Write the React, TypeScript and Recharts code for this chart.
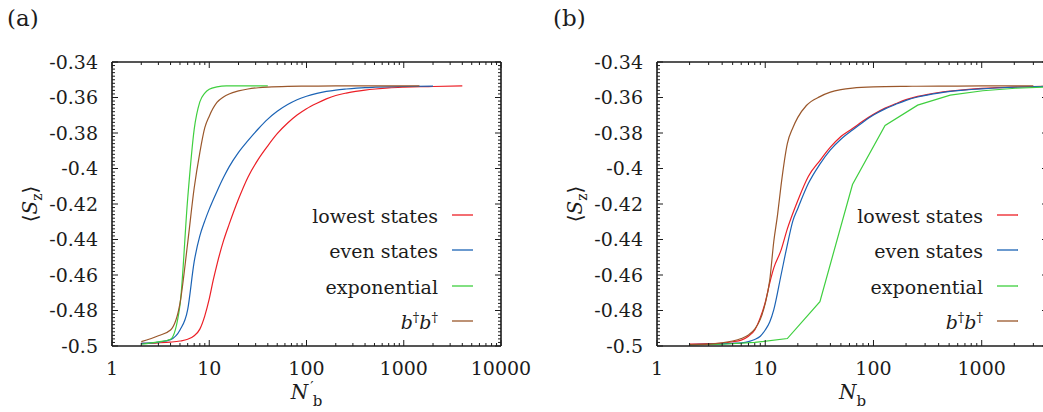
import React from "react"
import { LineChart, Line, XAxis, YAxis, Legend } from "recharts"

const SERIF = "'DejaVu Serif', 'Liberation Serif', serif"
const INK = "#1c1c1c"

const RED = "#ec1f26"
const BLUE = "#1b63b5"
const GREEN = "#3fcf3f"
const BROWN = "#9a572b"

// panel (a): <S_z> against N'_b
const aLowestN = [2, 3, 4, 5, 6, 7, 8, 9, 10, 11, 12, 14, 16, 20, 25, 32, 40, 50, 64, 80, 100, 128, 160, 200, 256, 320, 400, 512, 700, 1000, 1500, 2000, 4000]
const aLowestS = [-0.4985, -0.4982, -0.4978, -0.4972, -0.4962, -0.4942, -0.4905, -0.483, -0.4735, -0.4628, -0.4541, -0.4408, -0.4315, -0.4172, -0.4049, -0.3947, -0.3872, -0.3804, -0.3744, -0.3699, -0.3663, -0.3632, -0.3608, -0.3589, -0.3575, -0.3565, -0.3558, -0.3552, -0.3546, -0.3542, -0.3539, -0.3538, -0.3535]

const aEvenN = [2, 3, 4, 5, 6, 7, 8, 9, 10, 12, 14, 16, 20, 25, 32, 40, 50, 64, 80, 100, 128, 160, 200, 256, 400, 512, 1000, 2000]
const aEvenS = [-0.4985, -0.4978, -0.4964, -0.491, -0.4795, -0.4525, -0.438, -0.4295, -0.4229, -0.4129, -0.4051, -0.3991, -0.3909, -0.3843, -0.3776, -0.3722, -0.3678, -0.364, -0.3613, -0.3593, -0.3577, -0.3566, -0.3558, -0.3552, -0.3544, -0.3542, -0.3538, -0.3536]

const aExpN = [2, 3, 4, 5, 6, 7, 8, 9, 10, 12, 15, 20, 40]
const aExpS = [-0.499, -0.4977, -0.4962, -0.477, -0.417, -0.378, -0.3625, -0.3575, -0.3553, -0.354, -0.3535, -0.3535, -0.3535]

const aPairN = [2, 3, 4, 5, 6, 7, 8, 9, 10, 12, 14, 16, 20, 25, 32, 40, 64, 100, 200, 1450]
const aPairS = [-0.4975, -0.4942, -0.491, -0.476, -0.442, -0.411, -0.391, -0.377, -0.3705, -0.3628, -0.3597, -0.358, -0.3563, -0.3552, -0.3545, -0.3541, -0.3537, -0.3536, -0.3535, -0.3535]

// panel (b): <S_z> against N_b
const bLowestN = [2, 3, 4, 5, 6, 7, 8, 9, 10, 11, 12, 14, 16, 20, 25, 32, 40, 50, 64, 80, 100, 128, 160, 200, 256, 320, 400, 512, 640, 800, 1000, 1500, 2000, 3000, 4000]
const bLowestS = [-0.4989, -0.4987, -0.4983, -0.4976, -0.4967, -0.4945, -0.491, -0.484, -0.4755, -0.4645, -0.456, -0.446, -0.434, -0.418, -0.4045, -0.3955, -0.388, -0.382, -0.3775, -0.3733, -0.3695, -0.366, -0.3635, -0.3612, -0.3594, -0.3582, -0.3572, -0.3564, -0.3558, -0.3553, -0.3549, -0.3544, -0.3541, -0.3538, -0.3537]

const bEvenN = [2, 3, 4, 5, 6, 7, 8, 9, 10, 11, 12, 14, 16, 18, 20, 25, 32, 40, 50, 64, 80, 100, 128, 160, 200, 256, 320, 400, 512, 640, 800, 1000, 1500, 2000, 3000, 4000]
const bEvenS = [-0.4992, -0.499, -0.4988, -0.4985, -0.4982, -0.4975, -0.4963, -0.4945, -0.491, -0.4865, -0.4795, -0.46, -0.443, -0.4295, -0.4225, -0.4085, -0.3975, -0.3895, -0.3835, -0.3783, -0.3739, -0.3699, -0.3664, -0.3639, -0.3616, -0.3597, -0.3585, -0.3575, -0.3566, -0.356, -0.3555, -0.3551, -0.3545, -0.3542, -0.3539, -0.3537]

const bExpN = [2, 4, 8, 16, 32, 64, 128, 256, 512, 1024, 2048, 4096]
const bExpS = [-0.4993, -0.499, -0.498, -0.4958, -0.475, -0.409, -0.3758, -0.3643, -0.3587, -0.3562, -0.3548, -0.354]

const bPairN = [2, 3, 4, 5, 6, 7, 8, 9, 10, 11, 12, 13, 14, 16, 18, 20, 24, 32, 40, 50, 64, 100, 200, 400, 1000, 3000]
const bPairS = [-0.4992, -0.4989, -0.4982, -0.4972, -0.4958, -0.4938, -0.4905, -0.485, -0.476, -0.463, -0.441, -0.426, -0.4095, -0.386, -0.377, -0.3712, -0.3645, -0.3595, -0.357, -0.3556, -0.3547, -0.354, -0.3537, -0.3536, -0.3535, -0.3535]

// axes
const yLabels = [-0.5, -0.48, -0.46, -0.44, -0.42, -0.4, -0.38, -0.36, -0.34]
const xLabelsA = [1, 10, 100, 1000, 10000]
const xLabelsB = [1, 10, 100, 1000]
const seriesNames = ["lowest states", "even states", "exponential", "b†b†"]

const rows = (n: number[], s: number[]) => n.map((x, i) => ({ x, y: s[i] }))

// minor ticks: 2..9 per decade, and 10 steps between y labels
const logTicks = (max: number) => {
  const out: number[] = []
  for (let d = 1; d <= max; d *= 10) {
    for (let k = 1; k <= 9; k++) if (k * d <= max) out.push(k * d)
  }
  return out
}
const yTicks: number[] = []
for (let i = 0; i < yLabels.length - 1; i++) {
  for (let k = 0; k < 10; k++) yTicks.push(Number((yLabels[i] + (k * 0.02) / 10).toFixed(4)))
}
yTicks.push(yLabels[yLabels.length - 1])

const isMajorY = (v: number) => yLabels.some((m) => Math.abs(m - v) < 1e-6)

const PLOT_TOP = 62
const PLOT_BOTTOM = 346
const HEIGHT = 412

type Series = { name: string; color: string; data: { x: number; y: number }[]; curve: "monotone" | "linear" }

function LegendBox({ series, textRight }: { series: Series[]; textRight: number }) {
  return (
    <div style={{ position: "relative", width: 0, height: 0 }}>
      {series.map((s, i) => {
        const y = Math.round(215 + i * 35.3)
        return (
          <React.Fragment key={s.name}>
            <div
              style={{
                position: "absolute",
                left: 0,
                width: textRight,
                top: y - 12,
                height: 26,
                lineHeight: "26px",
                textAlign: "right",
                fontSize: 19,
                fontFamily: SERIF,
                color: INK,
                whiteSpace: "nowrap",
              }}
            >
              {s.name === "b†b†" ? (
                <span>
                  <i>b</i>
                  <sup style={{ fontSize: 13, lineHeight: 0 }}>†</sup>
                  <i>b</i>
                  <sup style={{ fontSize: 13, lineHeight: 0 }}>†</sup>
                </span>
              ) : (
                s.name
              )}
            </div>
            <svg style={{ position: "absolute", left: textRight + 14, top: y - 2 }} width={21} height={4}>
              <line x1={0} x2={21} y1={2} y2={2} stroke={s.color} strokeWidth={1.3} />
            </svg>
          </React.Fragment>
        )
      })}
    </div>
  )
}

function Panel({
  series,
  xMax,
  xLabels,
  width,
  plotLeft,
  plotRight,
  primed,
  legendRight,
}: {
  series: Series[]
  xMax: number
  xLabels: number[]
  width: number
  plotLeft: number
  plotRight: number
  primed: boolean
  legendRight: number
}) {
  const xTicks = logTicks(xMax)
  const margin = { top: PLOT_TOP - 1, right: width - plotRight - 1, bottom: HEIGHT - PLOT_BOTTOM - 30, left: plotLeft - 60 }
  const axisLine = { stroke: INK, strokeWidth: 1.6 }
  const cx = (plotLeft + plotRight) / 2
  const labelX = plotLeft - 75
  const labelY = (PLOT_TOP + PLOT_BOTTOM) / 2

  const bottomTick = ({ x, y, payload }: any) => {
    const major = xLabels.includes(payload.value)
    return (
      <g>
        <line x1={x} x2={x} y1={y} y2={y - (major ? 6 : 3)} stroke={INK} />
        {major && (
          <text x={x} y={y + 29} textAnchor="middle" fontSize={19} fontFamily={SERIF} fill={INK}>
            {payload.value}
          </text>
        )}
      </g>
    )
  }
  const topTick = ({ x, y, payload }: any) => {
    const major = xLabels.includes(payload.value)
    return <line x1={x} x2={x} y1={y} y2={y + (major ? 6 : 3)} stroke={INK} />
  }
  const leftTick = ({ x, y, payload }: any) => {
    const major = isMajorY(payload.value)
    return (
      <g>
        <line x1={x} x2={x + (major ? 6 : 3)} y1={y} y2={y} stroke={INK} />
        {major && (
          <text x={x - 14} y={y} dy="0.36em" textAnchor="end" fontSize={19} fontFamily={SERIF} fill={INK}>
            {String(payload.value)}
          </text>
        )}
      </g>
    )
  }
  const rightTick = ({ x, y, payload }: any) => {
    const major = isMajorY(payload.value)
    return <line x1={x} x2={x - (major ? 6 : 3)} y1={y} y2={y} stroke={INK} />
  }

  const xTitle = () => (
    <text x={cx} y={399} textAnchor="middle" fontFamily={SERIF} fill={INK} fontSize={20}>
      <tspan fontStyle="italic">N</tspan>
      {primed ? (
        <>
          <tspan fontSize={15} dx={2} dy={-7}>′</tspan>
          <tspan fontSize={15} dx={-1} dy={14}>b</tspan>
        </>
      ) : (
        <tspan fontSize={15} dy={7}>b</tspan>
      )}
    </text>
  )
  const yTitle = () => (
    <text
      transform={`rotate(-90 ${labelX} ${labelY})`}
      x={labelX}
      y={labelY}
      textAnchor="middle"
      fontFamily={SERIF}
      fill={INK}
      fontSize={20}
    >
      ⟨<tspan fontStyle="italic">S</tspan>
      <tspan fontSize={14} dy={5}>z</tspan>
      <tspan dy={-5}>⟩</tspan>
    </text>
  )

  return (
    <LineChart width={width} height={HEIGHT} margin={margin}>
      <XAxis
        xAxisId="bottom"
        dataKey="x"
        type="number"
        scale="log"
        domain={[1, xMax]}
        allowDataOverflow
        ticks={xTicks}
        interval={0}
        tickSize={0}
        tickMargin={0}
        tickLine={false}
        tick={bottomTick}
        axisLine={axisLine}
        height={30}
        label={xTitle}
      />
      <XAxis
        xAxisId="top"
        orientation="top"
        dataKey="x"
        type="number"
        scale="log"
        domain={[1, xMax]}
        allowDataOverflow
        ticks={xTicks}
        interval={0}
        tickSize={0}
        tickMargin={0}
        tickLine={false}
        tick={topTick}
        axisLine={axisLine}
        height={1}
      />
      <YAxis
        yAxisId="left"
        type="number"
        domain={[-0.5, -0.34]}
        allowDataOverflow
        ticks={yTicks}
        interval={0}
        tickSize={0}
        tickMargin={0}
        tickLine={false}
        tick={leftTick}
        axisLine={axisLine}
        width={60}
        label={yTitle}
      />
      <YAxis
        yAxisId="right"
        orientation="right"
        type="number"
        domain={[-0.5, -0.34]}
        allowDataOverflow
        ticks={yTicks}
        interval={0}
        tickSize={0}
        tickMargin={0}
        tickLine={false}
        tick={rightTick}
        axisLine={axisLine}
        width={1}
      />
      {series.map((s) => (
        <Line
          key={s.name}
          name={s.name}
          data={s.data}
          dataKey="y"
          xAxisId="bottom"
          yAxisId="left"
          type={s.curve}
          stroke={s.color}
          strokeWidth={1.2}
          dot={false}
          activeDot={false}
          isAnimationActive={false}
        />
      ))}
      <Legend
        layout="vertical"
        align="center"
        verticalAlign="middle"
        wrapperStyle={{ left: 0, top: 0, width: 0, height: 0 }}
        content={() => <LegendBox series={series} textRight={legendRight} />}
      />
    </LineChart>
  )
}

const seriesA: Series[] = [
  { name: seriesNames[0], color: RED, data: rows(aLowestN, aLowestS), curve: "monotone" },
  { name: seriesNames[1], color: BLUE, data: rows(aEvenN, aEvenS), curve: "monotone" },
  { name: seriesNames[2], color: GREEN, data: rows(aExpN, aExpS), curve: "monotone" },
  { name: seriesNames[3], color: BROWN, data: rows(aPairN, aPairS), curve: "monotone" },
]

const seriesB: Series[] = [
  { name: seriesNames[0], color: RED, data: rows(bLowestN, bLowestS), curve: "monotone" },
  { name: seriesNames[1], color: BLUE, data: rows(bEvenN, bEvenS), curve: "monotone" },
  { name: seriesNames[2], color: GREEN, data: rows(bExpN, bExpS), curve: "linear" },
  { name: seriesNames[3], color: BROWN, data: rows(bPairN, bPairS), curve: "monotone" },
]

export default function App() {
  const tag = { position: "absolute" as const, top: 7, fontSize: 23, lineHeight: "23px", fontFamily: SERIF, color: INK }
  return (
    <div style={{ position: "fixed", left: 0, top: 0, width: 1043, height: 412, overflow: "hidden", background: "#fff" }}>
      <style>{`.recharts-surface{overflow:visible}`}</style>
      <div style={{ position: "absolute", left: 0, top: 0 }}>
        <Panel series={seriesA} xMax={10000} xLabels={xLabelsA} width={520} plotLeft={112} plotRight={501} primed legendRight={438} />
      </div>
      <div style={{ position: "absolute", left: 520, top: 0 }}>
        <Panel series={seriesB} xMax={4096} xLabels={xLabelsB} width={560} plotLeft={137} plotRight={528} primed={false} legendRight={463} />
      </div>
      <div style={{ ...tag, left: 7 }}>(a)</div>
      <div style={{ ...tag, left: 553 }}>(b)</div>
    </div>
  )
}
